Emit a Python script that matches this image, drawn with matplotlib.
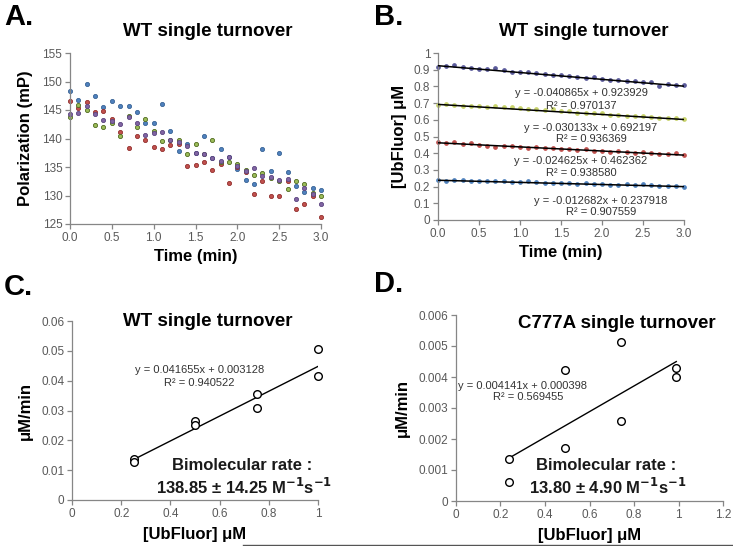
import numpy as np
import matplotlib
matplotlib.use("Agg")
from matplotlib import pyplot as plt
from matplotlib.lines import Line2D

plt.rcParams['font.family'] = ['Liberation Sans', 'DejaVu Sans']

W, H = 733, 546

# ---- panel A: polarization vs time, four runs
time_a = [round(0.1 * i, 1) for i in range(31)]
pol_blue = [148.4, 146.8, 149.5, 147.4, 145.5, 146.6, 145.7, 145.7, 144.6, 142.8, 142.7,
            146.1, 141.4, 137.8, 139.0, 137.4, 140.4, 136.6, 138.2, 136.8, 134.6,
            132.7, 132.1, 138.1, 134.3, 137.4, 134.1, 131.6, 130.7, 131.4, 130.9]
pol_red = [146.6, 145.4, 146.4, 144.6, 144.8, 143.5, 141.2, 138.3, 140.5, 139.8, 138.5,
           138.1, 138.8, 139.0, 135.2, 135.4, 135.9, 134.5, 135.6, 132.2, 135.0,
           134.2, 130.2, 132.5, 130.0, 130.0, 132.5, 127.6, 128.5, 130.0, 126.3]
pol_green = [143.7, 145.9, 145.0, 142.4, 142.1, 142.7, 140.5, 144.0, 142.1, 143.5, 141.3,
             139.6, 139.7, 139.7, 137.2, 139.0, 137.2, 139.8, 135.8, 135.8, 135.6,
             134.5, 133.6, 133.9, 133.1, 132.6, 131.1, 132.5, 132.1, 130.4, 130.0]
pol_purple = [144.3, 144.5, 145.7, 144.3, 143.3, 143.0, 142.6, 143.8, 142.8, 140.7, 140.9,
              141.2, 139.7, 139.3, 138.7, 137.4, 137.3, 136.5, 136.0, 136.8, 135.2,
              134.3, 134.9, 133.5, 133.3, 132.7, 132.9, 129.4, 131.3, 130.2, 128.5]

# ---- panel B: [UbFluor] vs time with linear fits
conc_top = [0.918, 0.921, 0.928, 0.917, 0.912, 0.905, 0.906, 0.909, 0.901, 0.888, 0.889,
            0.886, 0.879, 0.875, 0.871, 0.866, 0.864, 0.858, 0.852, 0.857, 0.846,
            0.840, 0.838, 0.835, 0.830, 0.826, 0.829, 0.800, 0.814, 0.807, 0.808]
conc_mid = [0.690, 0.697, 0.690, 0.683, 0.680, 0.681, 0.675, 0.683, 0.674, 0.679, 0.670,
            0.665, 0.663, 0.660, 0.662, 0.652, 0.651, 0.643, 0.643, 0.640, 0.638,
            0.631, 0.630, 0.625, 0.624, 0.620, 0.619, 0.612, 0.613, 0.608, 0.602]
conc_red = [0.468, 0.461, 0.466, 0.458, 0.459, 0.452, 0.446, 0.437, 0.445, 0.443, 0.440,
            0.434, 0.438, 0.430, 0.431, 0.428, 0.423, 0.420, 0.424, 0.416, 0.413,
            0.410, 0.414, 0.407, 0.404, 0.406, 0.403, 0.396, 0.398, 0.401, 0.388]
conc_low = [0.240, 0.236, 0.242, 0.237, 0.233, 0.236, 0.233, 0.232, 0.231, 0.228, 0.226,
            0.233, 0.226, 0.221, 0.223, 0.220, 0.224, 0.218, 0.219, 0.217, 0.213,
            0.210, 0.209, 0.214, 0.210, 0.214, 0.208, 0.204, 0.205, 0.202, 0.200]
fit_slopes_b = [-0.040865, -0.030133, -0.024625, -0.012682]
fit_icepts_b = [0.923929, 0.692197, 0.462362, 0.237918]
fit_r2_b = ["0.970137", "0.936369", "0.938580", "0.907559"]

# ---- panel C: WT rate vs substrate
ub_c = [0.25, 0.25, 0.5, 0.5, 0.75, 0.75, 1.0, 1.0]
rate_c = [0.0138, 0.0127, 0.0265, 0.0250, 0.0355, 0.0307, 0.0507, 0.0415]
fit_c = (0.041655, 0.003128)

# ---- panel D: C777A rate vs substrate
ub_d = [0.24, 0.24, 0.49, 0.49, 0.74, 0.74, 0.99, 0.99]
rate_d = [0.00137, 0.00061, 0.00422, 0.00172, 0.00513, 0.00258, 0.00430, 0.00401]
fit_d = (0.004141, 0.000398)

fig = plt.figure(figsize=(W / 100, H / 100), dpi=100)

AX_COL = '#868686'
TXT_COL = '#595959'


def px_axes(l, t, r, b):
    ax = fig.add_axes([l / W, 1 - b / H, (r - l) / W, (b - t) / H])
    for s in ['top', 'right']:
        ax.spines[s].set_visible(False)
    for s in ['left', 'bottom']:
        ax.spines[s].set_color(AX_COL)
        ax.spines[s].set_linewidth(0.9)
    ax.tick_params(direction='out', length=3.5, width=0.9, color=AX_COL,
                   labelcolor=TXT_COL, labelsize=8.5, pad=2)
    return ax


def ftext(x, y, s, **kw):
    kw.setdefault('ha', 'center')
    kw.setdefault('va', 'center')
    fig.text(x / W, 1 - y / H, s, **kw)


# panel A
axA = px_axes(70, 53, 321, 224)
cols_a = [('#4F81BD', '#3A6496', pol_blue), ('#C0504D', '#93302E', pol_red),
          ('#9BBB59', '#4F6A1E', pol_green), ('#8064A2', '#5C4580', pol_purple)]
for fc, ec, vals in cols_a:
    axA.plot(time_a, vals, 'o', ms=3.0, mfc=fc, mec=ec, mew=0.6, clip_on=False)
axA.set_xlim(0, 3)
axA.set_ylim(125, 155)
axA.set_xticks(np.arange(0, 3.01, 0.5))
axA.set_xticklabels([f"{v:.1f}" for v in np.arange(0, 3.01, 0.5)])
axA.set_yticks(range(125, 156, 5))
axA.set_ylabel("Polarization (mP)", fontsize=12, fontweight='bold', labelpad=7)
axA.set_xlabel("Time (min)", fontsize=12, fontweight='bold', labelpad=4)

# panel B
axB = px_axes(438, 53, 684, 220)
cols_b = [('#5A5A9A', conc_top), ('#C8D36B', conc_mid),
          ('#C0504D', conc_red), ('#4F81BD', conc_low)]
tx = np.array([0, 3])
for (c, vals), m, b0 in zip(cols_b, fit_slopes_b, fit_icepts_b):
    axB.plot(time_a, vals, 'o', ms=2.4, mfc=c, mec=c, clip_on=False, zorder=2)
    axB.plot(tx, m * tx + b0, color='black', lw=1.1, zorder=3)
axB.set_xlim(0, 3)
axB.set_ylim(0, 1)
axB.set_xticks(np.arange(0, 3.01, 0.5))
axB.set_xticklabels([f"{v:.1f}" for v in np.arange(0, 3.01, 0.5)])
yb = np.round(np.arange(0, 1.01, 0.1), 1)
axB.set_yticks(yb)
axB.set_yticklabels(["0" if v == 0 else ("1" if v == 1 else f"{v:.1f}") for v in yb])
axB.set_ylabel("[UbFluor] μM", fontsize=12, fontweight='bold', labelpad=5)
axB.set_xlabel("Time (min)", fontsize=12, fontweight='bold', labelpad=4)

eq_pos_b = [(581, 93, 106), (591, 128, 139), (581, 161, 173), (601, 201, 212)]
for (cx, ye, yr), m, b0, r2 in zip(eq_pos_b, fit_slopes_b, fit_icepts_b, fit_r2_b):
    ftext(cx, ye, f"y = {m:.6f}x + {b0:.6f}", fontsize=8, color='#333333')
    ftext(cx, yr, f"R² = {r2}", fontsize=8, color='#333333')

# panel C
axC = px_axes(72, 321, 318, 500)
xc = np.array([0.25, 1.0])
axC.plot(xc, fit_c[0] * xc + fit_c[1], color='black', lw=1.0)
axC.plot(ub_c, rate_c, 'o', ms=5.5, mfc='white', mec='black', mew=1.0, clip_on=False)
axC.set_xlim(0, 1)
axC.set_ylim(0, 0.06)
xtc = np.round(np.arange(0, 1.01, 0.2), 1)
axC.set_xticks(xtc)
axC.set_xticklabels(["0" if v == 0 else ("1" if v == 1 else f"{v:.1f}") for v in xtc])
ytc = np.round(np.arange(0, 0.0601, 0.01), 2)
axC.set_yticks(ytc)
axC.set_yticklabels(["0" if v == 0 else f"{v:.2f}" for v in ytc])
axC.set_ylabel("μM/min", fontsize=12, fontweight='bold', labelpad=6)
axC.set_xlabel("[UbFluor] μM", fontsize=12, fontweight='bold', labelpad=5)
ftext(200, 370, f"y = {fit_c[0]:.6f}x + {fit_c[1]:.6f}", fontsize=8, color='#333333')
ftext(199, 383, "R² = 0.940522", fontsize=8, color='#333333')
ftext(242, 465, "Bimolecular rate :", fontsize=12, fontweight='bold', color='#1a1a1a')
ftext(244, 487, "138.85 ± 14.25 M$^{\\mathbf{-1}}$s$^{\\mathbf{-1}}$", fontsize=12,
      fontweight='bold', color='#1a1a1a')

# panel D
axD = px_axes(456, 315, 723, 501)
xd = np.array([0.24, 0.99])
axD.plot(xd, fit_d[0] * xd + fit_d[1], color='black', lw=1.0)
axD.plot(ub_d, rate_d, 'o', ms=5.5, mfc='white', mec='black', mew=1.0, clip_on=False)
axD.set_xlim(0, 1.2)
axD.set_ylim(0, 0.006)
xtd = np.round(np.arange(0, 1.21, 0.2), 1)
axD.set_xticks(xtd)
axD.set_xticklabels(["0" if v == 0 else ("1" if v == 1 else f"{v:.1f}") for v in xtd])
ytd = np.round(np.arange(0, 0.00601, 0.001), 3)
axD.set_yticks(ytd)
axD.set_yticklabels(["0" if v == 0 else f"{v:.3f}" for v in ytd])
axD.set_ylabel("μM/min", fontsize=12, fontweight='bold', labelpad=6)
axD.set_xlabel("[UbFluor] μM", fontsize=12, fontweight='bold', labelpad=5)
ftext(523, 386, f"y = {fit_d[0]:.6f}x + {fit_d[1]:.6f}", fontsize=8, color='#333333')
ftext(528, 397, "R² = 0.569455", fontsize=8, color='#333333')
ftext(606, 466, "Bimolecular rate :", fontsize=12, fontweight='bold', color='#1a1a1a')
ftext(608, 487, "13.80 ± 4.90 M$^{\\mathbf{-1}}$s$^{\\mathbf{-1}}$", fontsize=12,
      fontweight='bold', color='#1a1a1a')

# titles and panel letters
ftext(208, 32, "WT single turnover", fontsize=13.5, fontweight='bold')
ftext(584, 32, "WT single turnover", fontsize=13.5, fontweight='bold')
ftext(208, 322, "WT single turnover", fontsize=13.5, fontweight='bold')
ftext(617, 323, "C777A single turnover", fontsize=13.5, fontweight='bold')
for lx, ly, letter in [(4, 17, "A."), (374, 17, "B."), (4, 287, "C."), (374, 284, "D.")]:
    ftext(lx, ly, letter, fontsize=21, fontweight='bold', ha='left')

fig.add_artist(Line2D([243 / W, 1.0], [1 - 544.5 / H, 1 - 544.5 / H],
                      color='#555555', lw=1.0))

fig.savefig("out.png", dpi=100)
